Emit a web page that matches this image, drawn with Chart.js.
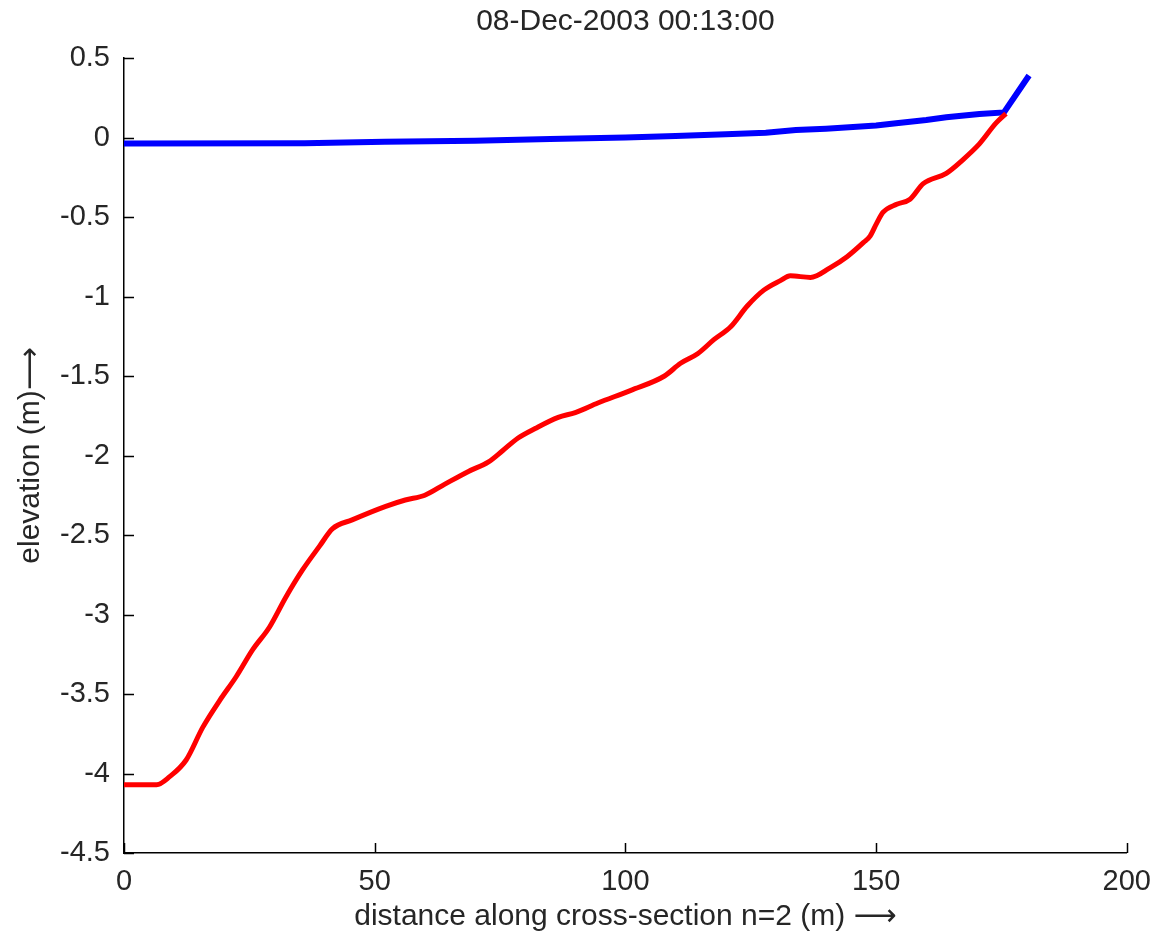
<!DOCTYPE html>
<html>
<head>
<meta charset="utf-8">
<script src="https://cdn.jsdelivr.net/npm/chart.js@4.4.1/dist/chart.umd.min.js"></script>
<style>
  html, body { margin: 0; padding: 0; background: #fff; }
  #wrap { width: 1163px; height: 937px; }
</style>
</head>
<body>
<div id="wrap"><canvas id="myChart" width="1163" height="937"></canvas></div>
<script>
// bed profile (red) and water level (blue)
var bedX = [0, 6.5, 9.1, 12.4, 15.7, 19.1, 22.4, 25.7, 29, 32.3, 35.6, 39, 41.6, 45.5, 52.2, 56.1,
            60, 64, 68.7, 72.7, 75.5, 78.6, 82, 86.6, 90, 94.5, 101.1, 107.8, 111, 114.4, 117.7,
            121, 124.3, 127.6, 130.9, 132.9, 136.9, 140.8, 144.2, 147.5, 148.8, 150.1, 151.4,
            154.1, 156.7, 159.4, 164, 167.3, 170.6, 173.9, 175.9];
var bedY = [-4.07, -4.07, -4.02, -3.915, -3.71, -3.54, -3.39, -3.22, -3.08, -2.89, -2.72, -2.57, -2.46, -2.405, -2.32, -2.28,
            -2.25, -2.18, -2.1, -2.04, -1.97, -1.89, -1.83, -1.76, -1.73, -1.67, -1.59, -1.50, -1.42, -1.36, -1.27,
            -1.19, -1.06, -0.96, -0.90, -0.87, -0.88, -0.82, -0.75, -0.66, -0.62, -0.54, -0.47,
            -0.42, -0.39, -0.29, -0.225, -0.14, -0.04, 0.09, 0.15];

var waterX = [0, 36, 52, 70, 85, 100, 110, 120, 128, 134, 140, 150, 154, 160, 164, 170.6, 175.5, 180.5];
var waterY = [-0.037, -0.036, -0.026, -0.02, -0.01, 0.0, 0.01, 0.02, 0.03, 0.047, 0.055, 0.075, 0.09, 0.11, 0.127, 0.148, 0.158, 0.39];

var xTicks = [0, 50, 100, 150, 200];
var yTicks = [0.5, 0, -0.5, -1, -1.5, -2, -2.5, -3, -3.5, -4, -4.5];

var titleText = '08-Dec-2003 00:13:00';
var xLabel = 'distance along cross-section n=2 (m) \u27F6';
var yLabel = 'elevation (m)\u27F6';

function toPoints(xs, ys) {
  return xs.map(function(x, i) { return { x: x, y: ys[i] }; });
}

var fontFam = '"Liberation Sans", Arial, Helvetica, "DejaVu Sans", sans-serif';
var txtColor = '#262626';

// matlab style ticks pointing into the plot
var innerTicks = {
  id: 'innerTicks',
  afterDraw: function(chart) {
    var c = chart.ctx, xs = chart.scales.x, ys = chart.scales.y;
    var a = chart.chartArea;
    c.save();
    c.strokeStyle = '#000';
    c.lineWidth = 1.5;
    c.beginPath();
    xTicks.forEach(function(v) {
      var px = Math.round(xs.getPixelForValue(v)) + 0.5;
      c.moveTo(px, a.bottom);
      c.lineTo(px, a.bottom - 10);
    });
    yTicks.forEach(function(v) {
      var py = Math.round(ys.getPixelForValue(v)) + 0.5;
      c.moveTo(a.left, py);
      c.lineTo(a.left + 10, py);
    });
    c.stroke();
    c.restore();
  }
};

var ctx = document.getElementById('myChart').getContext('2d');
new Chart(ctx, {
  type: 'line',
  data: {
    datasets: [{
      label: 'bed',
      data: toPoints(bedX, bedY),
      borderColor: '#ff0000',
      borderWidth: 5,
      pointRadius: 0,
      cubicInterpolationMode: 'monotone',
      fill: false
    }, {
      label: 'water',
      data: toPoints(waterX, waterY),
      borderColor: '#0000ff',
      borderWidth: 6,
      pointRadius: 0,
      tension: 0,
      fill: false
    }]
  },
  options: {
    responsive: false,
    animation: false,
    layout: { padding: { left: 0, right: 31, top: 0, bottom: 0 } },
    plugins: {
      legend: { display: false },
      tooltip: { enabled: false },
      title: {
        display: true,
        fullSize: false,
        text: titleText,
        color: txtColor,
        font: { family: fontFam, size: 30, weight: 'normal' },
        padding: { top: 4, bottom: 18 }
      }
    },
    scales: {
      x: {
        type: 'linear',
        min: 0,
        max: 200,
        afterBuildTicks: function(s) { s.ticks = xTicks.map(function(v) { return { value: v }; }); },
        afterFit: function(s) { s.height = 84; },
        grid: { display: false, drawTicks: false },
        border: { display: true, color: '#000', width: 1.5 },
        ticks: {
          color: txtColor,
          padding: 12,
          font: { family: fontFam, size: 29 },
          callback: function(v) { return String(v); }
        },
        title: {
          display: true,
          text: xLabel,
          color: txtColor,
          font: { family: fontFam, size: 30 },
          padding: { top: 0, bottom: 2 }
        }
      },
      y: {
        type: 'linear',
        min: -4.5,
        max: 0.5,
        afterBuildTicks: function(s) { s.ticks = yTicks.map(function(v) { return { value: v }; }); },
        afterFit: function(s) { s.width = 124; },
        grid: { display: false, drawTicks: false },
        border: { display: true, color: '#000', width: 1.5 },
        ticks: {
          color: txtColor,
          padding: 14,
          font: { family: fontFam, size: 29 },
          callback: function(v) { return String(v); }
        },
        title: {
          display: true,
          text: yLabel,
          color: txtColor,
          font: { family: fontFam, size: 30 },
          padding: { top: 13, bottom: 0 }
        }
      }
    }
  },
  plugins: [innerTicks]
});
</script>
</body>
</html>
